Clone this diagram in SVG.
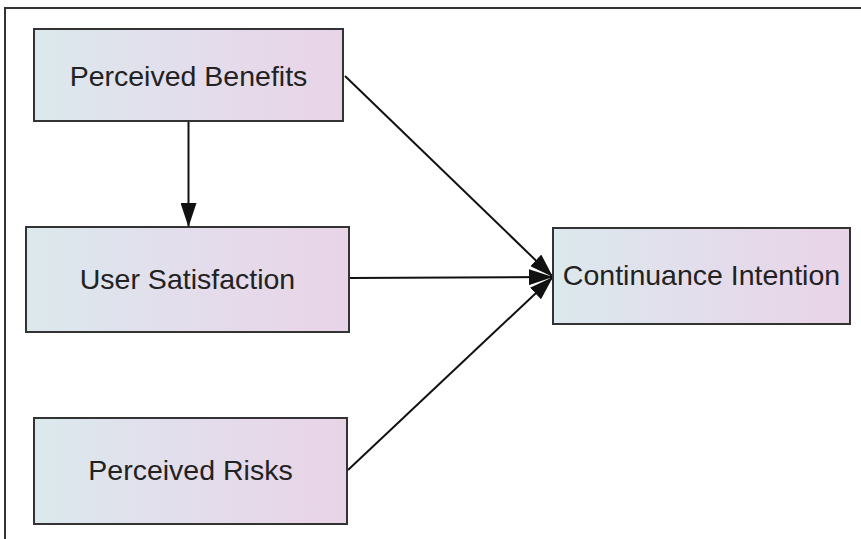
<svg xmlns="http://www.w3.org/2000/svg" width="861" height="539" viewBox="0 0 861 539">
<defs>
<linearGradient id="g" x1="0" y1="0" x2="1" y2="0">
<stop offset="0" stop-color="#dbe9ec"/>
<stop offset="0.5" stop-color="#e3ddec"/>
<stop offset="1" stop-color="#e9d4e7"/>
</linearGradient>
<marker id="ah" viewBox="0 0 24 16" refX="24" refY="8" markerWidth="24" markerHeight="16" markerUnits="userSpaceOnUse" orient="auto">
<path d="M0,0 L24,8 L0,16 Z" fill="#111"/>
</marker>
<style>
.box{fill:url(#g);stroke:#333;stroke-width:2}
.lbl{font-family:"Liberation Sans",Arial,sans-serif;font-size:28.5px;fill:#222;text-anchor:middle}
.edge{stroke:#111;stroke-width:2;fill:none;marker-end:url(#ah)}
.frame{stroke:#333;stroke-width:2;fill:none}
</style>
</defs>
<path class="frame" d="M5,539 L5,8 L861,8"/>
<g id="connectors">
<line class="edge" x1="188.5" y1="121" x2="188.5" y2="227"/>
<line class="edge" x1="345" y1="76" x2="553" y2="277"/>
<line class="edge" x1="349" y1="278" x2="553" y2="277"/>
<line class="edge" x1="348" y1="470" x2="553" y2="277"/>
</g>
<g id="perceived-benefits">
<rect class="box" x="34" y="29" width="309" height="92"/>
<text class="lbl" x="188.5" y="86">Perceived Benefits</text>
</g>
<g id="user-satisfaction">
<rect class="box" x="26" y="227" width="323" height="105"/>
<text class="lbl" x="187.5" y="289">User Satisfaction</text>
</g>
<g id="perceived-risks">
<rect class="box" x="34" y="418" width="313" height="106"/>
<text class="lbl" x="190.5" y="480">Perceived Risks</text>
</g>
<g id="continuance-intention">
<rect class="box" x="553" y="228" width="297" height="96"/>
<text class="lbl" x="701.5" y="285">Continuance Intention</text>
</g>
</svg>
